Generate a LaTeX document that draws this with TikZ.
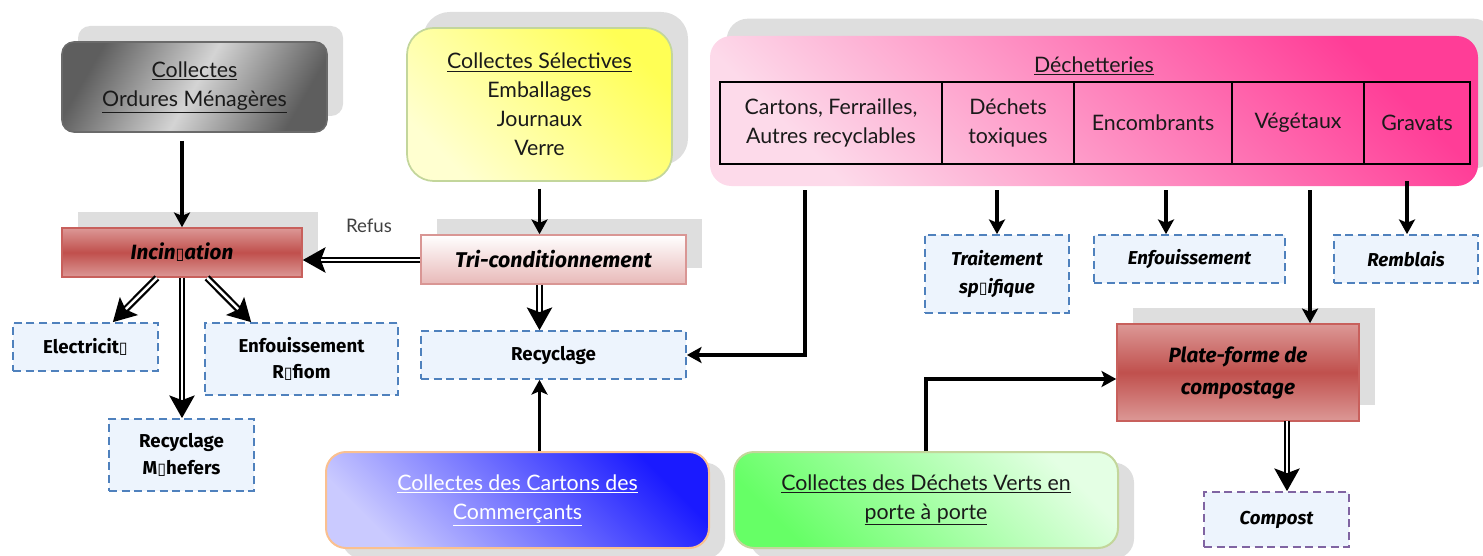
\documentclass[tikz,border=0pt]{standalone}
\usepackage{fontspec}
\setmainfont{Lato}
\newfontfamily\comic{Fira Sans}
\newfontfamily\dejavu{DejaVu Sans}
\usetikzlibrary{arrows.meta,shadows}
\definecolor{shgray}{HTML}{DEDEDE}
\definecolor{txt}{HTML}{1A1A1A}
\definecolor{redlight}{HTML}{DC9896}
\definecolor{reddark}{HTML}{C0504D}
\definecolor{redborder}{HTML}{C8605C}
\definecolor{pinklight}{HTML}{E8B9B8}
\definecolor{pinkborder}{HTML}{D99694}
\definecolor{dashblue}{HTML}{4F81BD}
\definecolor{dashfill}{HTML}{EDF4FD}
\definecolor{dashpurple}{HTML}{8064A2}
\definecolor{yellowlight}{HTML}{FFFFD0}
\definecolor{yellowdark}{HTML}{FFFF55}
\definecolor{yellowborder}{HTML}{C3D69B}
\definecolor{pinkA}{HTML}{FDDAEA}
\definecolor{pinkB}{HTML}{FF3D97}
\definecolor{blueA}{HTML}{CACAFF}
\definecolor{blueB}{HTML}{1A1AFF}
\definecolor{blueborder}{HTML}{FAC090}
\definecolor{greenA}{HTML}{66FF66}
\definecolor{greenB}{HTML}{E4FFE4}
\definecolor{greenborder}{HTML}{C3D69B}
\definecolor{grayA}{HTML}{5E5E5E}
\definecolor{grayB}{HTML}{D4D4D4}
\definecolor{grayborder}{HTML}{6A6A6A}
\newcommand{\mgl}{{\dejavu\fontsize{12}{12}\selectfont ▯}}
\tikzset{
  sz/.style 2 args={minimum width=#1*0.75pt, minimum height=#2*0.75pt},
  shup/.style={general shadow={fill=shgray, shadow xshift=12pt, shadow yshift=12pt}},
  shdown/.style={general shadow={fill=shgray, shadow xshift=12pt, shadow yshift=-8pt}},
  maintext/.style={font=\fontsize{16}{21.75}\selectfont, text=txt, align=center, inner sep=0pt},
  redbox/.style={draw=redborder, line width=1.2pt, top color=redlight, bottom color=redlight, middle color=reddark,
     font=\comic\bfseries\itshape\fontsize{15.5}{24}\selectfont, align=center, inner sep=0pt, shup},
  tribox/.style={draw=pinkborder, line width=1.2pt, top color=white, bottom color=pinklight,
     font=\comic\bfseries\itshape\fontsize{16}{24}\selectfont, align=center, inner sep=0pt, shup},
  dbox/.style={draw=dashblue, fill=dashfill, line width=1.3pt, dash pattern=on 6pt off 3.5pt,
     font=\comic\bfseries\fontsize{14}{20}\selectfont, align=center, inner sep=0pt},
  dboxi/.style={dbox, font=\comic\bfseries\itshape\fontsize{14}{21}\selectfont},
  cell/.style={draw=black, line width=1.5pt, maintext},
  arr/.style={line width=2.8pt, -{Stealth[length=11pt,width=12pt,inset=2.5pt]}},
  darr/.style={double=white, double distance=1.8pt, line width=1.7pt, -{Stealth[length=17pt,width=19pt,inset=3.5pt]}},
}
\begin{document}
\begin{tikzpicture}[x=0.75pt,y=-0.75pt]
\useasboundingbox (0,0) rectangle (1483,556);

% top boxes
\node[maintext, sz={265}{90}, rounded corners=9pt, draw=grayborder, line width=1.2pt,
      left color=grayA, right color=grayA, middle color=grayB, shading angle=60, shup] (om) at (194.5,87)
      {\underline{Collectes}\\\underline{Ordures Ménagères}};
\node[maintext, sz={265}{153}, rounded corners=20pt, draw=yellowborder, line width=1.3pt,
      left color=yellowlight, right color=yellowdark, shading angle=135, shup] (cs) at (539.5,104.5)
      {\underline{Collectes Sélectives}\\Emballages\\Journaux\\Verre};
\node[sz={768}{150}, rounded corners=16pt, left color=pinkA, right color=pinkB, shading angle=135,
      general shadow={fill=shgray, shadow xshift=12.5pt, shadow yshift=13pt}] (dech) at (1094,111) {};
\node[maintext] (dtitle) at (1094,66) {\underline{Déchetteries}};
\node[cell, sz={222}{82}] (c1) at (831,123) {Cartons, Ferrailles,\\Autres recyclables};
\node[cell, sz={132}{82}] (c2) at (1008,123) {Déchets\\toxiques};
\node[cell, sz={158}{82}] (c3) at (1153,123) {Encombrants};
\node[cell, sz={132}{82}] (c4) at (1298,123) {Végétaux};
\node[cell, sz={106}{82}] (c5) at (1417,123) {Gravats};

% process boxes
\node[redbox, sz={240}{49}] (incin) at (182,252.5) {Incin\mgl ation};
\node[tribox, sz={265}{49}] (tri) at (553.5,259.5) {Tri-conditionnement};
\node[redbox, sz={242}{97}] (plat) at (1238,372.5) {Plate-forme de\\compostage};

% dashed boxes
\node[dbox, sz={145}{48}] (elec) at (85.5,347) {Electricit\mgl};
\node[dbox, sz={193}{72}] (refiom) at (301.5,359) {Enfouissement\\R\mgl fiom};
\node[dbox, sz={145}{72}] (mach) at (181.5,455) {Recyclage\\M\mgl hefers};
\node[dbox, sz={265}{48}] (recy) at (553.5,355) {Recyclage};
\node[dboxi, sz={144}{78}] (trait) at (997,274) {Traitement\\sp\mgl ifique};
\node[dboxi, sz={191}{48}] (enf) at (1189.5,259) {Enfouissement};
\node[dboxi, sz={144}{48}] (remb) at (1406,259) {Remblais};
\node[dboxi, draw=dashpurple, sz={145}{55}] (compost) at (1276.5,519.5) {Compost};

% bottom boxes
\node[maintext, text=white, sz={383}{96}, rounded corners=15pt, draw=blueborder, line width=1.5pt,
      left color=blueA, right color=blueB, shading angle=135, shdown] (blue) at (517.5,500)
      {\underline{Collectes des Cartons des}\\\underline{Commerçants}};
\node[maintext, sz={384}{96}, rounded corners=15pt, draw=greenborder, line width=1.5pt,
      left color=greenA, right color=greenB, shading angle=135, shdown] (green) at (926,500)
      {\underline{Collectes des Déchets Verts en}\\\underline{porte à porte}};

% label
\node[font=\fontsize{14}{14}\selectfont, text=black!75, inner sep=0pt] (refus) at (369,226) {Refus};

% coordinates
\coordinate (dA) at (805,190);
\coordinate (dB) at (997,190);
\coordinate (dC) at (1166,190);
\coordinate (dD) at (1310,190);
\coordinate (dE) at (1407,181);
\coordinate (pc) at (1287,421);

% connectors
\draw[arr] ([yshift=-6pt]om.south -| incin.north) -- (incin.north);
\draw[arr] ([yshift=-5pt]cs.south) -- (cs.south |- tri.north);
\draw[darr] (tri.west |- 0,260) -- (incin.east |- 0,260);
\draw[darr] (tri.south -| cs.south) -- (recy.north -| cs.south);
\draw[darr] ([xshift=-18.75pt]incin.south) -- ([xshift=-34.5pt]elec.north east);
\draw[darr] (incin.south) -- (incin.south |- mach.north);
\draw[darr] ([xshift=18.75pt]incin.south) -- ([xshift=35.25pt]refiom.north west);
\draw[arr] (dA) |- (recy.east);
\draw[arr] (blue.north -| cs.south) -- (recy.south -| cs.south);
\draw[arr] (dB) -- (dB |- trait.north);
\draw[arr] (dC) -- (dC |- enf.north);
\draw[arr] (dD) -- (dD |- plat.north);
\draw[arr] (dE) -- (dE |- remb.north);
\draw[arr] (green.north) |- (plat.west |- 0,379);
\draw[darr] (pc) -- (pc |- compost.north);
\end{tikzpicture}
\end{document}
